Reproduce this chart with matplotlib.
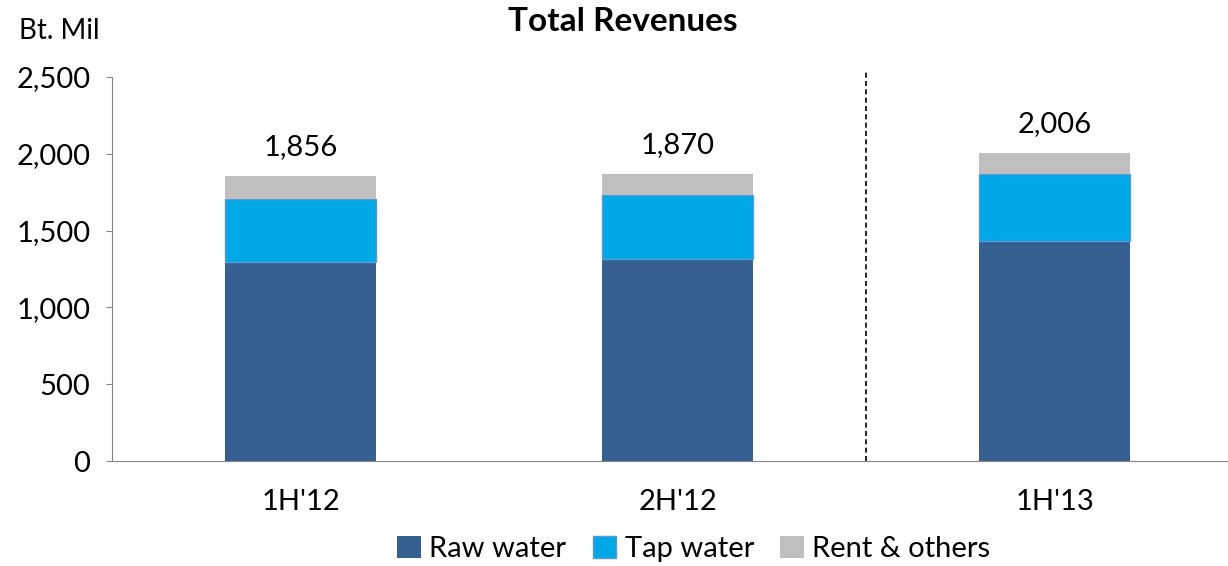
import matplotlib.pyplot as plt
import numpy as np

plt.rcParams['font.family'] = ['Lato', 'DejaVu Sans']

# Données
periodes = ["1H'12", "2H'12", "1H'13"]
raw_water = [1294, 1315, 1429]
tap_water = [413, 417, 439]
rent_others = [149, 138, 138]
totaux = ['1,856', '1,870', '2,006']

x = np.arange(len(periodes))
raw = np.array(raw_water)
tap = np.array(tap_water)
rent = np.array(rent_others)

fig = plt.figure(figsize=(12.28, 5.66), dpi=100)
ax = fig.add_axes([0.0912, 0.1855, 0.9088, 0.6785])

largeur = 0.40
ax.bar(x, raw, largeur, color='#366092', label='Raw water')
ax.bar(x, tap, largeur, bottom=raw, color='#00A9E6', edgecolor='#5B9BD5',
       linewidth=1, label='Tap water')
ax.bar(x, rent, largeur, bottom=raw + tap, color='#BFBFBF', label='Rent & others')

# Totaux au-dessus des barres
for xi, h, t in zip(x, raw + tap + rent, totaux):
    ax.text(xi, h + 105, t, ha='center', va='bottom', fontsize=21)

# Séparateur pointillé
ax.plot([1.5, 1.5], [0, 2540], color='black', linestyle=(0, (3, 2)),
        linewidth=1.2, clip_on=False)

ax.set_xlim(-0.5, 2.46)
ax.set_ylim(0, 2500)
ax.set_yticks([0, 500, 1000, 1500, 2000, 2500])
ax.set_yticklabels(['0', '500', '1,000', '1,500', '2,000', '2,500'])
ax.set_xticks(x)
ax.set_xticklabels(periodes)
ax.tick_params(axis='y', labelsize=21, length=4.5, color='#868686', pad=11)
ax.tick_params(axis='x', labelsize=21, length=0, pad=20)

for s in ['top', 'right']:
    ax.spines[s].set_visible(False)
ax.spines['left'].set_color('#868686')
ax.spines['bottom'].set_color('#868686')

fig.text(0.507, 0.962, 'Total Revenues', ha='center', va='center',
         fontsize=24, fontweight='bold')
fig.text(0.048, 0.945, 'Bt. Mil', ha='center', va='center', fontsize=20)

fig.legend(loc='center', bbox_to_anchor=(0.565, 0.03), ncol=3, frameon=False,
           fontsize=21, handlelength=0.8, handleheight=0.8, handletextpad=0.3,
           columnspacing=0.9)

plt.savefig('out.png', dpi=100)
